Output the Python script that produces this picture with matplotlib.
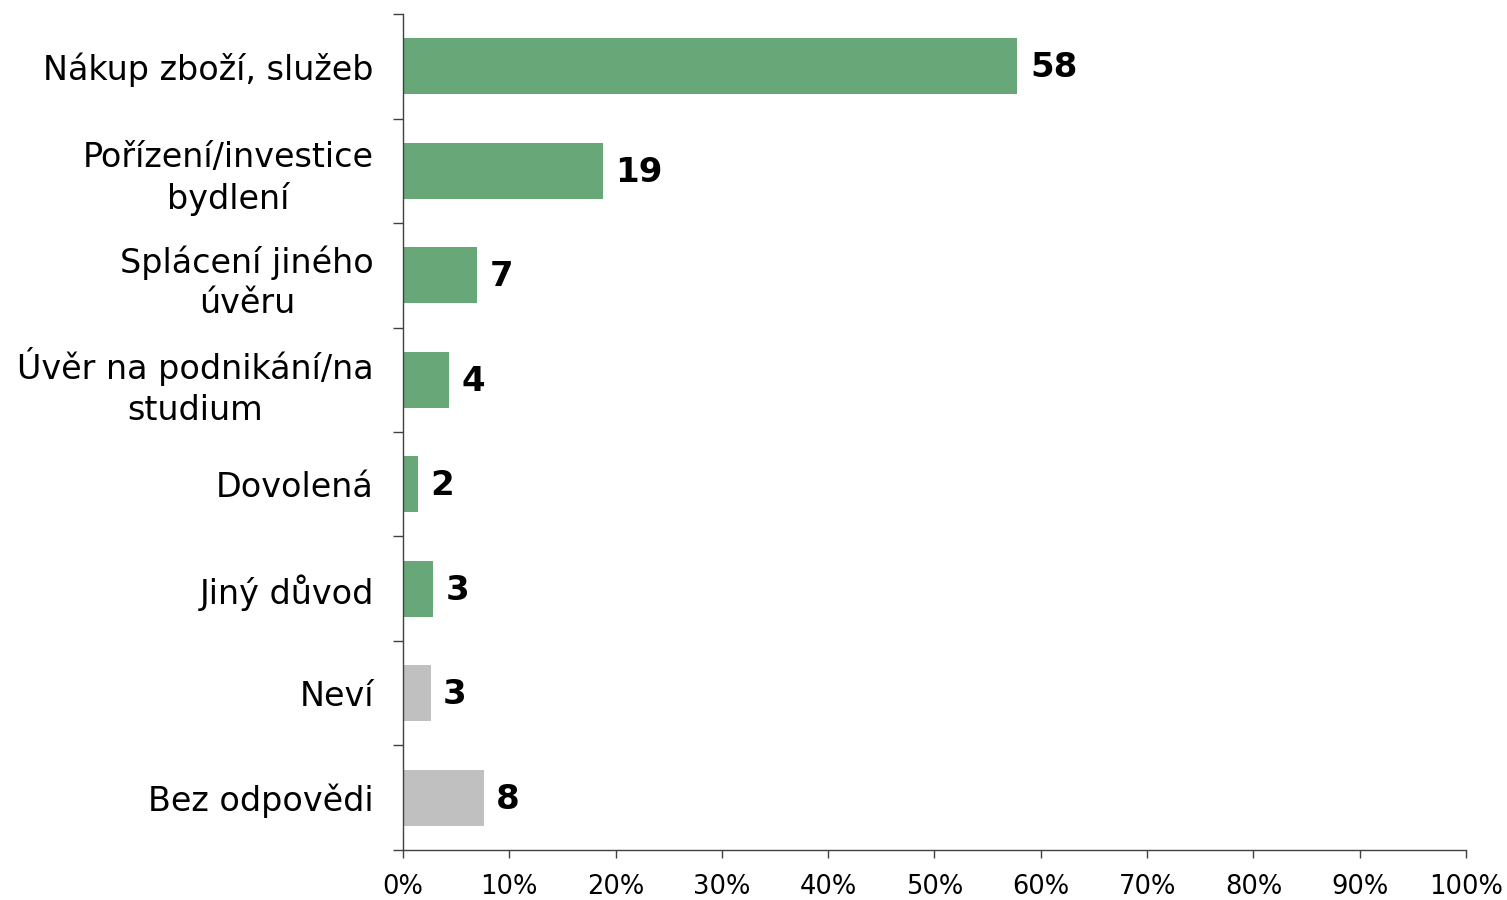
import matplotlib
matplotlib.use('Agg')
import matplotlib.pyplot as plt
import matplotlib.ticker as mticker
import numpy as np

# Data (top to bottom)
categories = [
    'Nákup zboží, služeb',
    'Pořízení/investice\nbydlení',
    'Splácení jiného\núvěru',
    'Úvěr na podnikání/na\nstudium',
    'Dovolená',
    'Jiný důvod',
    'Neví',
    'Bez odpovědi',
]
values = [57.8, 18.8, 7.0, 4.3, 1.4, 2.8, 2.6, 7.6]
value_labels = ['58', '19', '7', '4', '2', '3', '3', '8']
is_answer = [True, True, True, True, True, True, False, False]
x_ticks = [0, 10, 20, 30, 40, 50, 60, 70, 80, 90, 100]

GREEN = '#68A878'
GREY = '#C0C0C0'
AXIS = '#404040'

fig = plt.figure(figsize=(15.07, 9), dpi=100)
ax = fig.add_axes([0.2674, 0.0556, 0.7054, 0.9288])

n = len(categories)
y = np.arange(n)
colors = [GREEN if a else GREY for a in is_answer]
ax.barh(y, values, height=0.54, color=colors)

# value labels right of each bar
for yi, v, lab in zip(y, values, value_labels):
    ax.annotate(lab, xy=(v, yi), xytext=(9, -1), textcoords='offset points',
                ha='left', va='center', fontsize=24.5, fontweight='bold')

ax.set_xlim(0, 100)
ax.set_ylim(n - 0.5, -0.5)

# category labels centred, tick marks at category boundaries
ax.set_yticks(y)
ax.set_yticklabels(categories, fontsize=24, multialignment='center',
                   linespacing=1.3)
ax.set_yticks(np.arange(n + 1) - 0.5, minor=True)
ax.tick_params(axis='y', which='major', length=0, pad=21)
ax.tick_params(axis='y', which='minor', length=7, width=1, color=AXIS)

ax.set_xticks(x_ticks)
ax.xaxis.set_major_formatter(mticker.FuncFormatter(lambda x, p: f'{x:.0f}%'))
ax.tick_params(axis='x', length=6, width=1, color=AXIS, labelsize=18.5, pad=11)

for s in ['top', 'right']:
    ax.spines[s].set_visible(False)
for s in ['left', 'bottom']:
    ax.spines[s].set_color(AXIS)
    ax.spines[s].set_linewidth(1)

fig.savefig('out.png', dpi=100, facecolor='white')
